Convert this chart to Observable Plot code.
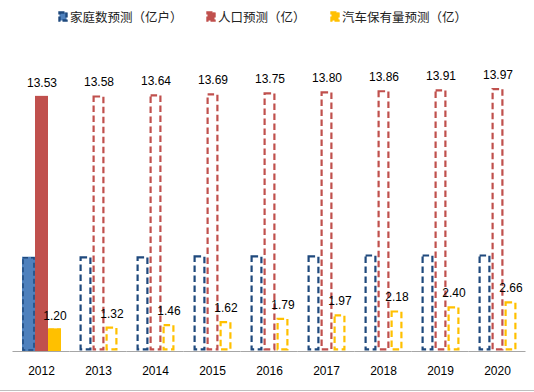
<!DOCTYPE html>
<html>
<head>
<meta charset="utf-8">
<script src="https://cdn.jsdelivr.net/npm/d3@7"></script>
<script src="https://cdn.jsdelivr.net/npm/@observablehq/plot@0.6"></script>
<style>
  html, body { margin: 0; padding: 0; background: #fff; }
  #wrap { position: relative; width: 534px; height: 392px; overflow: hidden; }
  #legend { position: relative; height: 30px; font-family: "Noto Sans CJK SC", sans-serif; font-size: 12.5px; color: #222; }
  .item { position: absolute; top: 7px; display: flex; align-items: center; white-space: nowrap; }
  .item svg { margin-right: 2px; }
  #chart svg { display: block; }
  #bottomline { position: absolute; left: 0; top: 390px; width: 534px; height: 1px; background: #bfbfbf; }
</style>
</head>
<body>
<div id="wrap">
  <div id="legend"></div>
  <div id="chart"></div>
  <div id="bottomline"></div>
</div>
<script>
const years = ["2012", "2013", "2014", "2015", "2016", "2017", "2018", "2019", "2020"];
const seriesNames = ["家庭数预测（亿户）", "人口预测（亿）", "汽车保有量预测（亿）"];
const households = [5.0, 5.05, 5.05, 5.1, 5.1, 5.1, 5.15, 5.15, 5.15];
const population = [13.53, 13.58, 13.64, 13.69, 13.75, 13.80, 13.86, 13.91, 13.97];
const cars = [1.20, 1.32, 1.46, 1.62, 1.79, 1.97, 2.18, 2.40, 2.66];
const actualYear = "2012";

const fills = ["#4F81BD", "#C0504D", "#FFC000"];
const strokes = ["#1F497D", "#C0504D", "#FFC000"];

const seriesValues = [households, population, cars];
const data = [];
years.forEach((yr, i) => {
  seriesValues.forEach((vals, s) => {
    data.push({year: yr, series: seriesNames[s], s, value: vals[i], actual: yr === actualYear});
  });
});
const actualData = data.filter(d => d.actual);
const forecastData = data.filter(d => !d.actual);
const labelData = data.filter(d => d.s !== 0);

// legend
const legend = document.getElementById("legend");
const legendX = [58, 206, 330];
seriesNames.forEach((name, s) => {
  const item = document.createElement("div");
  item.className = "item";
  item.style.left = legendX[s] + "px";
  item.innerHTML = `<svg width="10" height="11"><rect x="1.5" y="1.5" width="7" height="8" fill="${fills[s]}" stroke="${strokes[s]}" stroke-width="2.4" stroke-dasharray="5,2"></rect></svg><span>${name}</span>`;
  legend.appendChild(item);
});

const chart = Plot.plot({
  width: 534,
  height: 360,
  marginLeft: 10,
  marginRight: 6,
  marginTop: 57,
  marginBottom: 39,
  style: {fontFamily: "'Liberation Sans', sans-serif", fontSize: "12px", color: "#000", background: "transparent"},
  fx: {domain: years, paddingInner: 0.29, paddingOuter: 0.15, axis: "bottom", label: null, tickSize: 0, tickPadding: 15},
  x: {domain: seriesNames, padding: 0, axis: null},
  y: {domain: [0, 14], axis: null},
  marks: [
    Plot.barY(actualData, {fx: "year", x: "series", y: "value", fill: d => fills[d.s], inset: 0}),
    Plot.barY(actualData, {fx: "year", x: "series", y: "value", fill: "none", stroke: d => strokes[d.s], strokeWidth: 1.5, strokeDasharray: "5,3", inset: 1}),
    Plot.barY(forecastData, {fx: "year", x: "series", y: "value", fill: "white", stroke: d => strokes[d.s], strokeWidth: 2.2, strokeDasharray: "6.5,3.5", inset: 1.6}),
    Plot.ruleY([0], {stroke: "#a6a6a6", strokeWidth: 1.2, insetLeft: -8.5, insetRight: -8.5}),
    Plot.text(labelData, {fx: "year", x: "series", y: "value", text: d => d.value.toFixed(2), lineAnchor: "bottom", dy: -9, fill: "#000", fontSize: 12})
  ]
});
document.getElementById("chart").appendChild(chart);
</script>
</body>
</html>
